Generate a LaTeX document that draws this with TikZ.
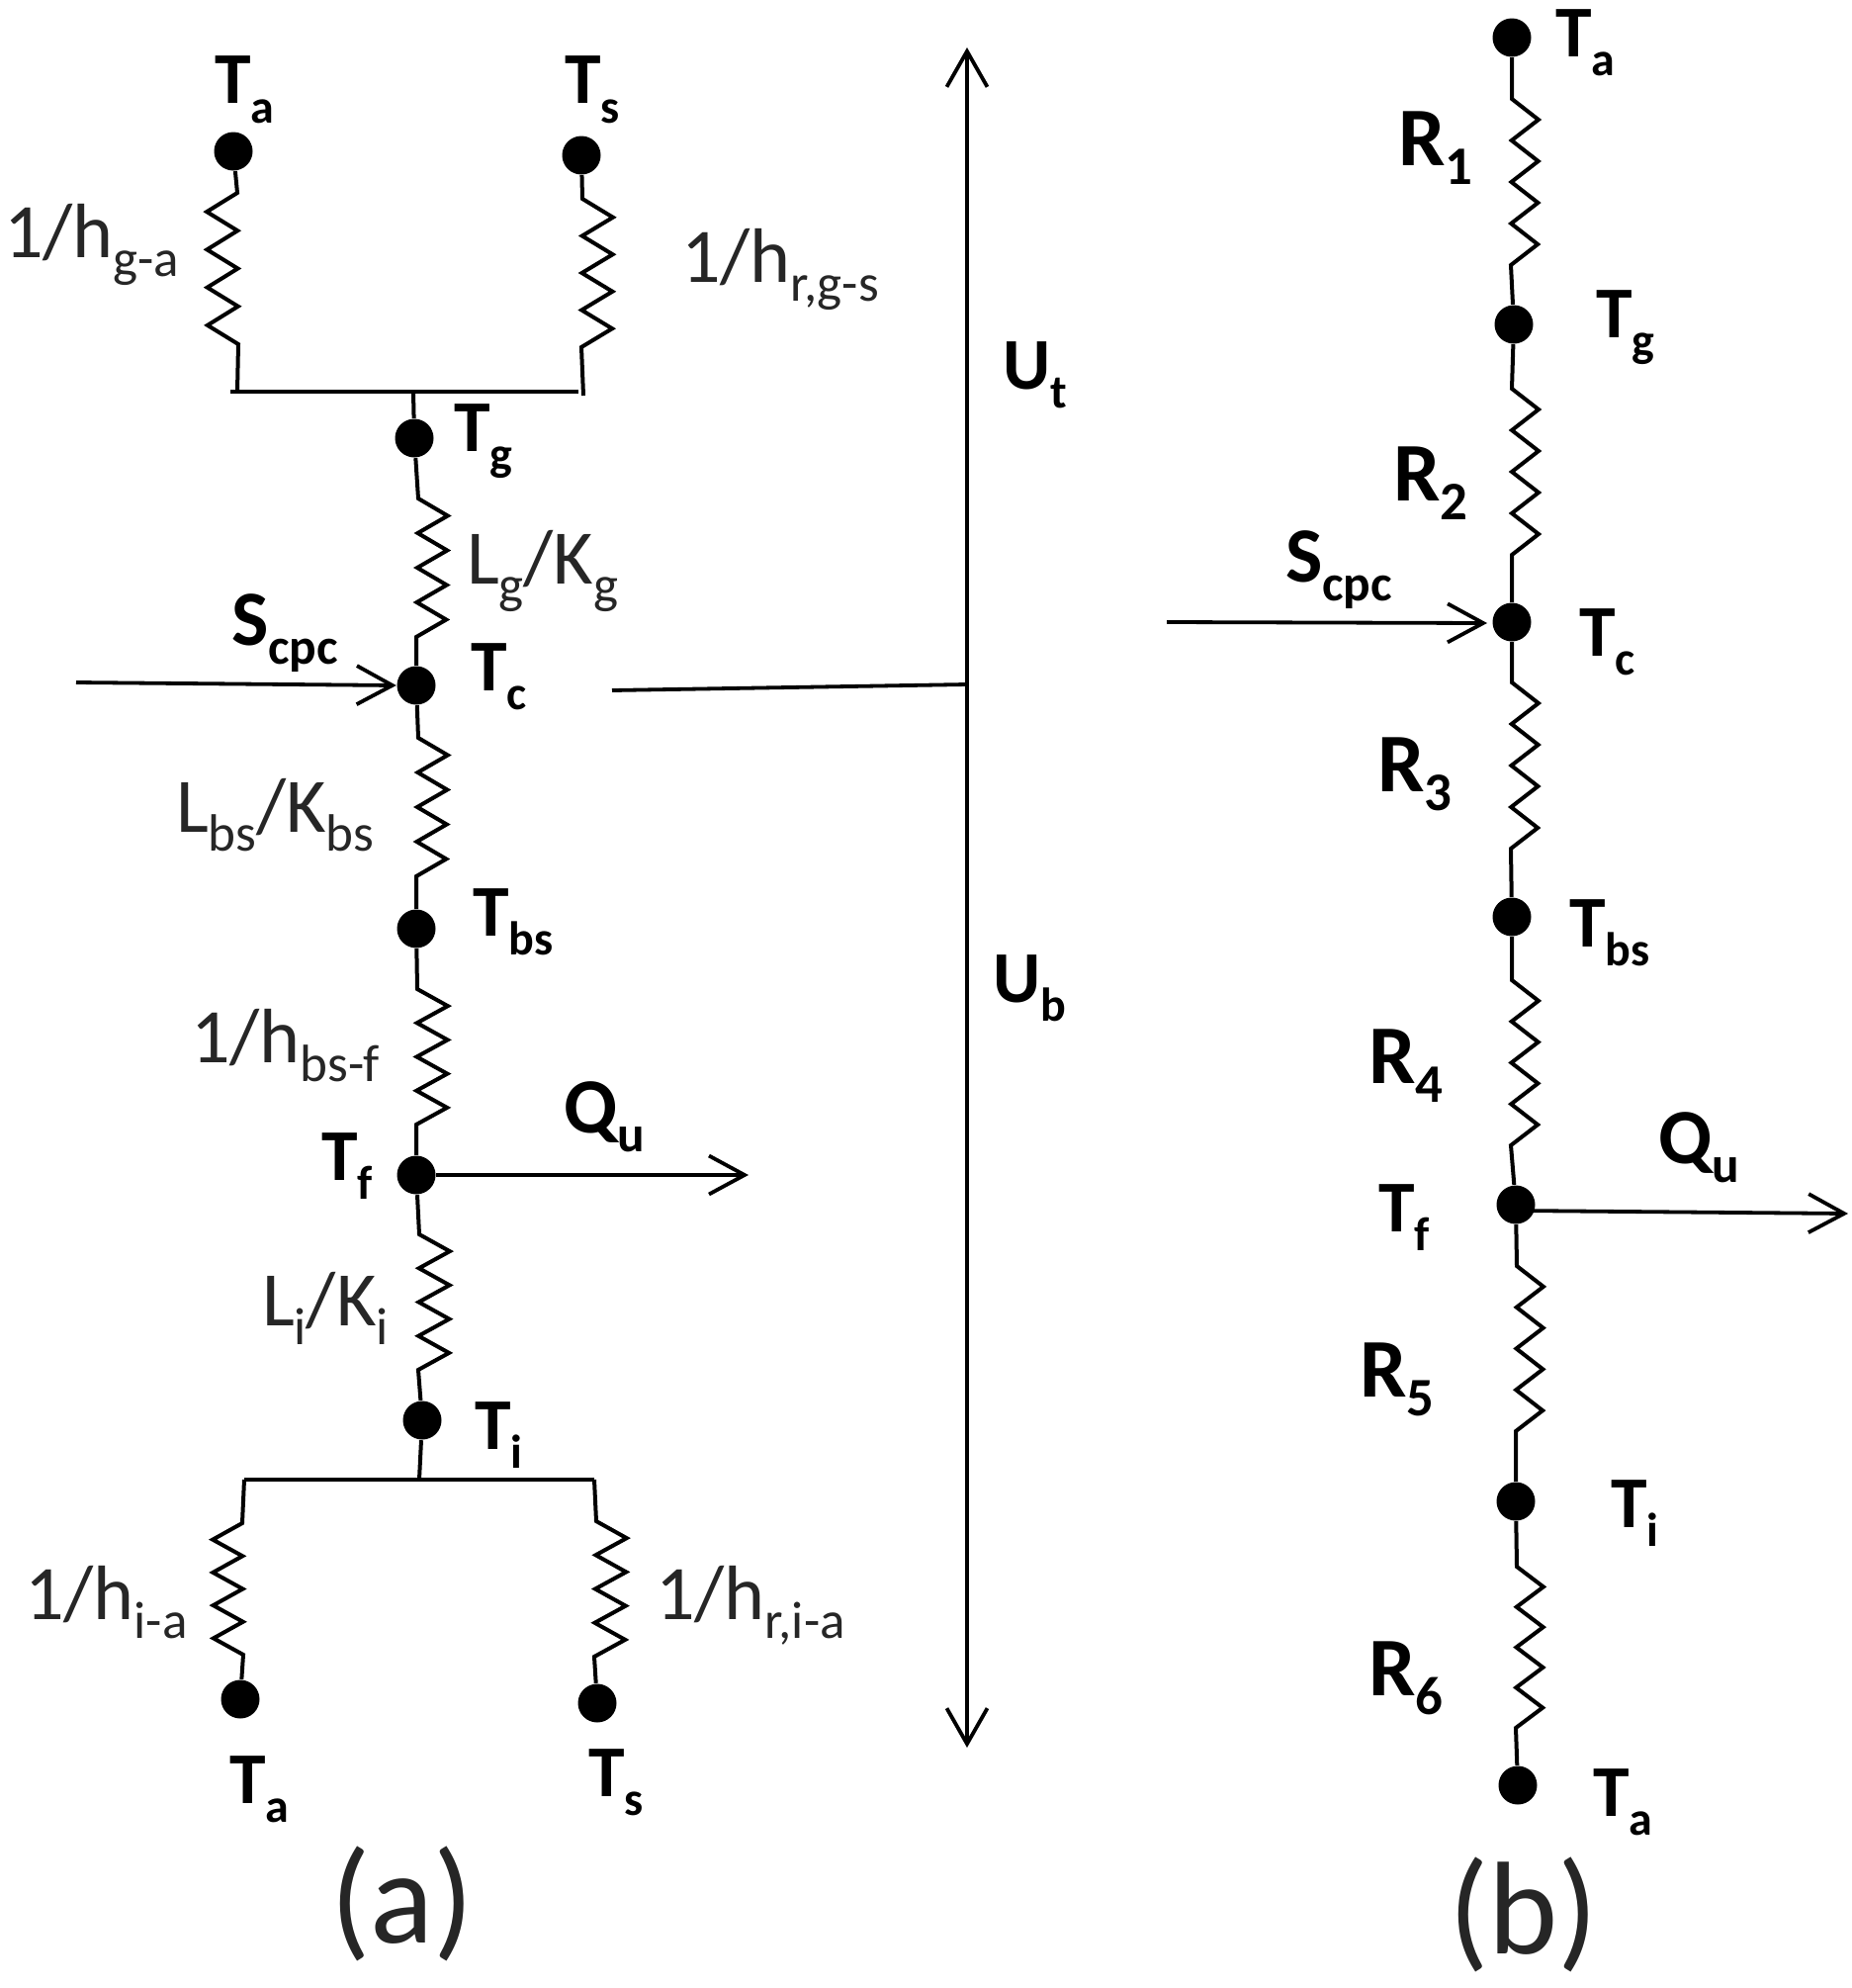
\documentclass[tikz,border=0pt]{standalone}
\usepackage{fontspec}
\usepackage{graphicx}
\setmainfont{Carlito}
\usetikzlibrary{arrows.meta,calc}
\newcommand{\sbsB}[1]{\raisebox{-5.5pt}{\scalebox{0.65}{#1}}}
\newcommand{\sbsN}[1]{\raisebox{-5.5pt}{\scalebox{0.68}{#1}}}
% dotA, zig start, zig end, dotB, amplitude
\newcommand{\res}[5]{\draw[wire] (#1) -- (#2)
  \foreach \i in {1,...,7} { -- ($(#2)!\i/8!(#3)+({mod(\i,2)*(#5)},0)$) } -- (#3) -- (#4);}
\tikzset{
  x=0.1mm,y=-0.1mm,
  wire/.style={line width=0.4mm,black,line join=miter},
  thin wire/.style={line width=0.38mm,black},
  dot/.style={circle,fill=black,draw=none,minimum size=3.9mm,inner sep=0pt},
  flow/.style={thin wire,-{Straight Barb[length=3.6mm,width=3.9mm,line width=0.38mm]}},
  lab/.style={anchor=base west,inner sep=0pt,outer sep=0pt},
  tb/.style={lab,font=\fontsize{21}{25}\selectfont\bfseries,yshift=-0.3mm},
  ts/.style={lab,font=\fontsize{22.5}{26}\selectfont\bfseries,yshift=-0.3mm},
  tn/.style={lab,font=\fontsize{22.2}{26}\selectfont,text=black!85,xshift=-0.5mm},
  tr/.style={lab,font=\fontsize{24}{28}\selectfont\bfseries,xshift=-0.4mm},
  captext/.style={lab,font=\fontsize{38}{42}\selectfont,text=black!85,xshift=-0.8mm,yshift=-0.4mm},
}
\begin{document}
\begin{tikzpicture}
\useasboundingbox (0,0) rectangle (1873,2010);
% --- diagram (a) dots
\node[dot] (aTa) at (236,153) {};
\node[dot] (aTs) at (588,157) {};
\node[dot] (aTg) at (419,443) {};
\node[dot] (aTc) at (421,693) {};
\node[dot] (aTbs) at (421,939) {};
\node[dot] (aTf) at (421,1188) {};
\node[dot] (aTi) at (427,1436) {};
\node[dot] (aTa2) at (243,1718) {};
\node[dot] (aTs2) at (604,1722) {};
% bars
\coordinate (bt1) at (233,396); \coordinate (bt2) at (585,396);
\coordinate (btL) at (240,396); \coordinate (btR) at (590,400); \coordinate (btM) at (418,396);
\coordinate (bb1) at (247,1496); \coordinate (bb2) at (601,1496); \coordinate (bbM) at (424,1496);
\draw[wire] (bt1) -- (bt2);
\draw[wire] (bb1) -- (bb2);
\draw[wire] (btM) -- (aTg);
\draw[wire] (aTi) -- (bbM);
% resistors (a)
\coordinate (z1s) at (240,195); \coordinate (z1e) at (241,348);
\res{aTa}{z1s}{z1e}{btL}{-31}
\coordinate (z2s) at (589,201); \coordinate (z2e) at (588,351);
\res{aTs}{z2s}{z2e}{btR}{31}
\coordinate (z3s) at (423,504); \coordinate (z3e) at (421,644);
\res{aTg}{z3s}{z3e}{aTc}{30}
\coordinate (z4s) at (423,746); \coordinate (z4e) at (421,886);
\res{aTc}{z4s}{z4e}{aTbs}{30}
\coordinate (z5s) at (422,1000); \coordinate (z5e) at (421,1137);
\res{aTbs}{z5s}{z5e}{aTf}{31}
\coordinate (z6s) at (424,1248); \coordinate (z6e) at (423,1385);
\res{aTf}{z6s}{z6e}{aTi}{31}
\coordinate (z7s) at (245,1540); \coordinate (z7e) at (246,1673);
\res{bb1}{z7s}{z7e}{aTa2}{-30}
\coordinate (z8s) at (603,1538); \coordinate (z8e) at (601,1675);
\res{bb2}{z8s}{z8e}{aTs2}{31}
% arrows (a)
\coordinate (aS) at (77,690);
\draw[flow] (aS) -- (aTc.west);
\coordinate (aQ) at (757,1188);
\draw[flow] (aTf) -- (aQ);
\coordinate (uTop) at (978,48); \coordinate (uBot) at (978,1767);
\draw[thin wire,{Straight Barb[length=3.6mm,width=4.1mm,line width=0.38mm]}-{Straight Barb[length=3.6mm,width=4.1mm,line width=0.38mm]}] (uTop) -- (uBot);
\coordinate (uL) at (619,698); \coordinate (uJ) at (978,692);
\draw[thin wire] (uL) -- (uJ);
% --- diagram (b) dots
\node[dot] (bTa) at (1529,38) {};
\node[dot] (bTg) at (1531,328) {};
\node[dot] (bTc) at (1529,629) {};
\node[dot] (bTbs) at (1529,927) {};
\node[dot] (bTf) at (1533,1218) {};
\node[dot] (bTi) at (1533,1518) {};
\node[dot] (bTa2) at (1535,1805) {};
\coordinate (r1s) at (1529,100); \coordinate (r1e) at (1528,268);
\res{bTa}{r1s}{r1e}{bTg}{27}
\coordinate (r2s) at (1529,393); \coordinate (r2e) at (1529,561);
\res{bTg}{r2s}{r2e}{bTc}{27}
\coordinate (r3s) at (1529,690); \coordinate (r3e) at (1528,858);
\res{bTc}{r3s}{r3e}{bTbs}{27}
\coordinate (r4s) at (1529,991); \coordinate (r4e) at (1528,1158);
\res{bTbs}{r4s}{r4e}{bTf}{27}
\coordinate (r5s) at (1534,1280); \coordinate (r5e) at (1533,1447);
\res{bTf}{r5s}{r5e}{bTi}{27}
\coordinate (r6s) at (1534,1584); \coordinate (r6e) at (1533,1747);
\res{bTi}{r6s}{r6e}{bTa2}{27}
\coordinate (bS) at (1180,629); \coordinate (bSt) at (1504,630);
\draw[flow] (bS) -- (bSt);
\coordinate (bQs) at (1533,1224); \coordinate (bQ) at (1869,1227);
\draw[flow] (bQs) -- (bQ);
% --- labels (a)
\node[tb] (la1) at (217,102) {T\sbsB{a}};
\node[tb] (la2) at (571,102) {T\sbsB{s}};
\node[tn] (la3) at (9,260) {1/h\sbsN{g-a}};
\node[tn] (la4) at (694,285) {1/h\sbsN{r,g-s}};
\node[tb] (la5) at (459,453) {T\sbsB{g}};
\node[tn] (la6) at (477,590) {L\sbsN{g}/K\sbsN{g}};
\node[ts] (la7) at (234,649) {S\sbsB{cpc}};
\node[tb] (la8) at (476,695) {T\sbsB{c}};
\node[tn] (la9) at (183,841) {L\sbsN{bs}/K\sbsN{bs}};
\node[tb] (la10) at (478,943) {T\sbsB{bs}};
\node[tn] (la11) at (198,1074) {1/h\sbsN{bs-f}};
\node[ts] (la12) at (570,1142) {Q\sbsB{u}};
\node[tb] (la13) at (325,1190) {T\sbsB{f}};
\node[tn] (la14) at (270,1340) {L\sbsN{i}/K\sbsN{i}};
\node[tb] (la15) at (480,1462) {T\sbsB{i}};
\node[tn] (la16) at (30,1637) {1/h\sbsN{i-a}};
\node[tn] (la17) at (668,1637) {1/h\sbsN{r,i-a}};
\node[tb] (la18) at (232,1820) {T\sbsB{a}};
\node[tb] (la19) at (595,1813) {T\sbsB{s}};
\node[captext] (capa) at (342,1960) {(a)};
% --- labels middle
\node[tb] (lu1) at (1014,390) {U\sbsB{t}};
\node[tb] (lu2) at (1004,1010) {U\sbsB{b}};
% --- labels (b)
\node[tb] (lb1) at (1573,54) {T\sbsB{a}};
\node[tr] (lb2) at (1418,167) {R\sbsB{1}};
\node[tb] (lb3) at (1614,338) {T\sbsB{g}};
\node[tr] (lb4) at (1413,506) {R\sbsB{2}};
\node[ts] (lb5) at (1300,585) {S\sbsB{cpc}};
\node[tb] (lb6) at (1597,660) {T\sbsB{c}};
\node[tr] (lb7) at (1397,800) {R\sbsB{3}};
\node[tb] (lb8) at (1587,954) {T\sbsB{bs}};
\node[tr] (lb9) at (1388,1095) {R\sbsB{4}};
\node[ts] (lb10) at (1677,1173) {Q\sbsB{u}};
\node[tb] (lb11) at (1394,1242) {T\sbsB{f}};
\node[tr] (lb12) at (1379,1412) {R\sbsB{5}};
\node[tb] (lb13) at (1629,1541) {T\sbsB{i}};
\node[tr] (lb14) at (1388,1714) {R\sbsB{6}};
\node[tb] (lb15) at (1611,1833) {T\sbsB{a}};
\node[captext] (capb) at (1473,1971) {(b)};
\end{tikzpicture}
\end{document}
